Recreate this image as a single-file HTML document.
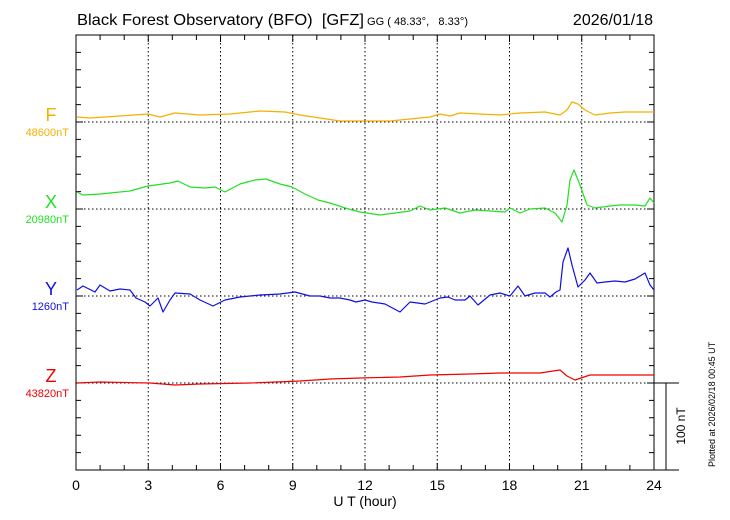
<!DOCTYPE html>
<html><head><meta charset="utf-8"><style>
html,body{margin:0;padding:0;background:#fff;}
svg{display:block;font-family:"Liberation Sans",sans-serif;}
text{white-space:pre;}
</style></head><body>
<svg width="730" height="520" viewBox="0 0 730 520" xmlns="http://www.w3.org/2000/svg" xml:space="preserve">
<rect width="730" height="520" fill="#fff"/>
<text x="77" y="25" font-size="16" fill="#000" textLength="287" lengthAdjust="spacingAndGlyphs">Black Forest Observatory (BFO)  [GFZ]</text>
<text x="367" y="25" font-size="11" fill="#000" textLength="101" lengthAdjust="spacingAndGlyphs">GG ( 48.33°,   8.33°)</text>
<text x="653" y="25" font-size="16" fill="#000" text-anchor="end">2026/01/18</text>
<g stroke="#000" stroke-width="1" stroke-dasharray="1.5,2.5" fill="none">
<path d="M148.25 35V470M220.5 35V470M292.75 35V470M365 35V470M437.25 35V470M509.5 35V470M581.75 35V470"/>
<path d="M76 122H654M76 209H654M76 296H654M76 383H654"/>
</g>
<g stroke="#000" stroke-width="1" fill="none">
<rect x="76" y="35" width="578" height="435"/>
<path d="M100.1 470v-5M124.2 470v-5M148.25 470v-7M172.3 470v-5M196.4 470v-5M220.5 470v-7M244.6 470v-5M268.7 470v-5M292.75 470v-7M316.8 470v-5M340.9 470v-5M365 470v-7M389.1 470v-5M413.2 470v-5M437.25 470v-7M461.3 470v-5M485.4 470v-5M509.5 470v-7M533.6 470v-5M557.7 470v-5M581.75 470v-7M605.8 470v-5M629.9 470v-5"/>
<path d="M100.1 35v5M124.2 35v5M148.25 35v7M172.3 35v5M196.4 35v5M220.5 35v7M244.6 35v5M268.7 35v5M292.75 35v7M316.8 35v5M340.9 35v5M365 35v7M389.1 35v5M413.2 35v5M437.25 35v7M461.3 35v5M485.4 35v5M509.5 35v7M533.6 35v5M557.7 35v5M581.75 35v7M605.8 35v5M629.9 35v5"/>
<path d="M76 452.6h5M76 435.2h5M76 417.8h5M76 400.4h5M76 383h7M76 365.6h5M76 348.2h5M76 330.8h5M76 313.4h5M76 296h7M76 278.6h5M76 261.2h5M76 243.8h5M76 226.4h5M76 209h7M76 191.6h5M76 174.2h5M76 156.8h5M76 139.4h5M76 122h7M76 104.6h5M76 87.2h5M76 69.8h5M76 52.4h5"/>
<path d="M654 452.6h-5M654 435.2h-5M654 417.8h-5M654 400.4h-5M654 383h-7M654 365.6h-5M654 348.2h-5M654 330.8h-5M654 313.4h-5M654 296h-7M654 278.6h-5M654 261.2h-5M654 243.8h-5M654 226.4h-5M654 209h-7M654 191.6h-5M654 174.2h-5M654 156.8h-5M654 139.4h-5M654 122h-7M654 104.6h-5M654 87.2h-5M654 69.8h-5M654 52.4h-5"/>
<path d="M654 383H679M654 470H679M666 383V470"/>
</g>
<g font-size="14" fill="#000" text-anchor="middle">
<text x="76" y="490">0</text><text x="148.25" y="490">3</text><text x="220.5" y="490">6</text><text x="292.75" y="490">9</text><text x="365" y="490">12</text><text x="437.25" y="490">15</text><text x="509.5" y="490">18</text><text x="581.75" y="490">21</text><text x="654" y="490">24</text>
<text x="365" y="506">U T (hour)</text>
</g>
<text transform="translate(685,426) rotate(-90)" font-size="12" text-anchor="middle">100 nT</text>
<text transform="translate(715,467) rotate(-90)" font-size="9">Plotted at 2026/02/18 00:45 UT</text>
<g font-size="18" text-anchor="middle">
<text x="51" y="121" fill="#f5b000">F</text>
<text x="51" y="208" fill="#22e022">X</text>
<text x="51" y="295" fill="#1010e0">Y</text>
<text x="51" y="382" fill="#f00000">Z</text>
</g>
<g font-size="11" text-anchor="end">
<text x="69" y="136" fill="#f5b000">48600nT</text>
<text x="69" y="223" fill="#22e022">20980nT</text>
<text x="69" y="310" fill="#1010e0">1260nT</text>
<text x="69" y="397" fill="#f00000">43820nT</text>
</g>
<g fill="none" stroke-width="1.2" stroke-linejoin="round">
<polyline stroke="#f5b000" points="77,117 90,118 120,116 148,114 160,117 175,113 200,115 230,114 260,111 285,112 300,115 320,118 340,121 360,121 390,121 410,119 430,117 440,114 450,116 460,113 480,114 500,115 520,113 545,112 560,115 567,110 572,102 578,104 585,110 595,115 610,113 625,112 654,112"/>
<polyline stroke="#22e022" points="77,192 83,195 100,194 110,193 130,191 148,186 170,183 178,181 190,187 205,188 215,187 225,192 240,184 255,180 266,179 280,184 292,187 305,194 318,200 330,203 345,208 360,212 380,215 395,213 410,211 420,206 430,210 445,208 460,213 475,210 490,211 505,212 510,208 520,213 530,209 545,208 555,213 562,222 567,205 570,180 574,170 580,185 587,205 595,208 610,206 620,205 635,205 645,206 650,198 654,203"/>
<polyline stroke="#1010e0" points="77,290 83,286 95,292 100,285 110,291 120,289 130,290 136,298 145,302 150,306 158,298 163,312 170,300 175,293 190,294 200,300 213,306 225,300 240,297 260,295 280,294 295,292 310,296 320,296 330,298 340,298 350,300 356,302 365,300 372,302 385,304 400,312 410,302 425,304 440,298 448,297 455,300 465,300 470,296 478,305 490,295 500,293 510,296 518,286 525,296 535,293 545,293 550,297 556,292 560,290 563,262 568,248 572,265 578,287 585,280 590,273 597,283 605,282 615,281 625,282 635,279 645,273 650,285 654,290"/>
<polyline stroke="#f00000" points="77,383 100,382 150,383 175,385 200,384 250,383 300,381 330,379 360,378 400,377 430,375 470,374 500,373 540,373 560,370 567,376 575,380 590,375 610,375 640,375 654,375"/>
</g>
</svg>
</body></html>
